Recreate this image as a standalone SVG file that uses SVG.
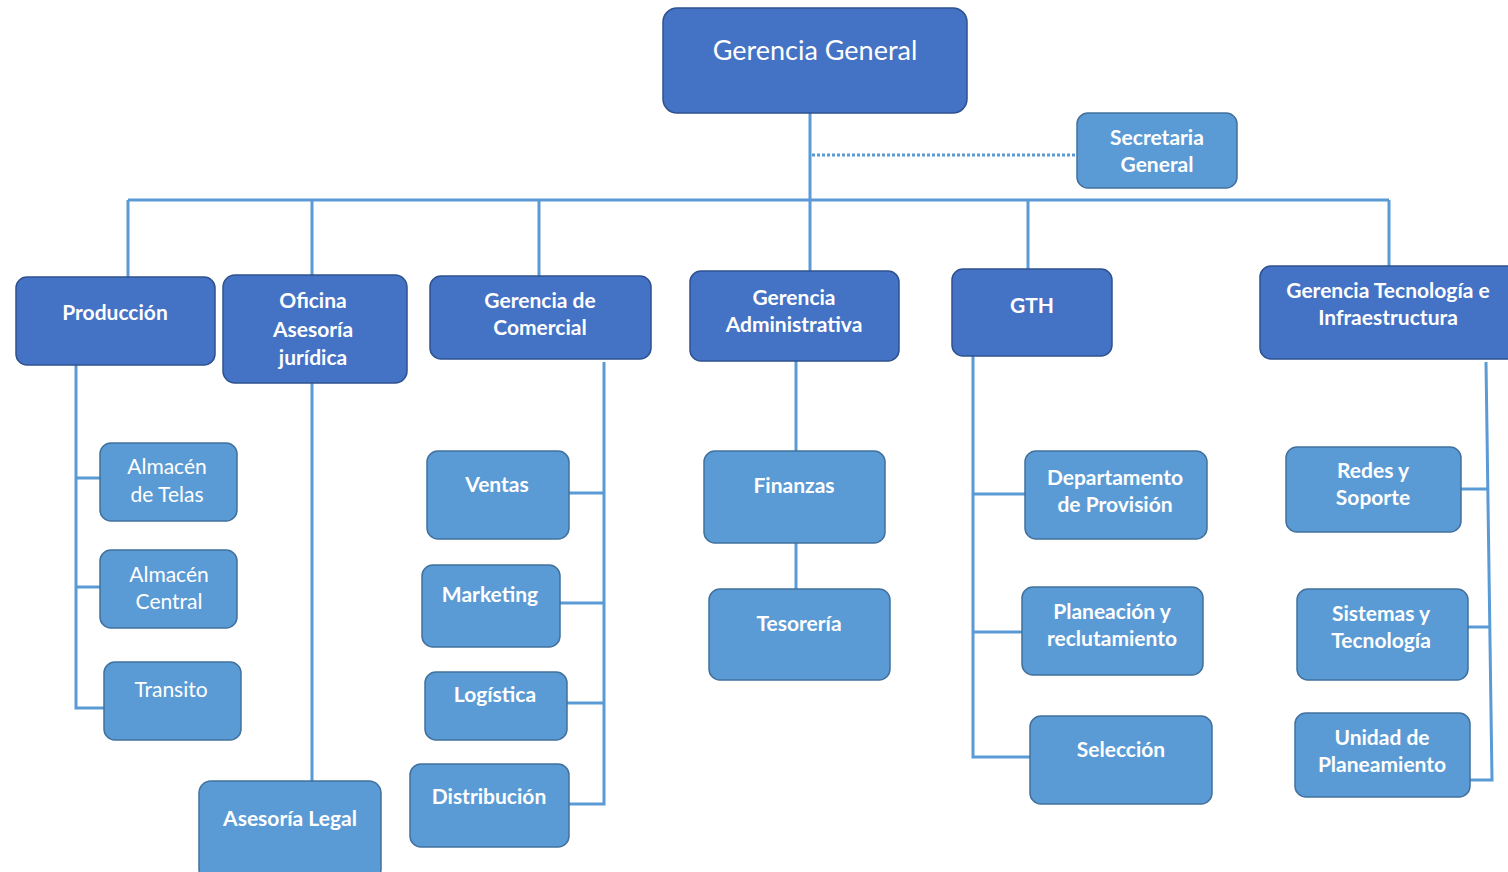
<svg xmlns="http://www.w3.org/2000/svg" width="1508" height="872" viewBox="0 0 1508 872">
<style>
.d{fill:#4472C4;stroke:#2F528F;stroke-width:1.5}
.l{fill:#5B9BD5;stroke:#41719C;stroke-width:1.5}
.t{font-family:Lato,"Open Sans",sans-serif;font-weight:bold;font-size:21px;fill:#fff;text-anchor:middle}
.n{font-weight:normal}
.c{fill:none;stroke:#5B9BD5;stroke-width:3}
</style>
<rect width="1508" height="872" fill="#fff"/>
<g id="connectors">
<path class="c" d="M810 113V200M128 200H1389M128 200V277M312 200V275M539 200V276M810 200V271M1028 200V269M1389 200V266"/>
<path d="M812 155H1077" fill="none" stroke="#5B9BD5" stroke-width="3" stroke-dasharray="3 2"/>
<path class="c" d="M76 365V708H104M76 478H100M76 587H100"/>
<path class="c" d="M312 383V781"/>
<path class="c" d="M604 362V804H569M569 493H604M560 603H604M567 703H604"/>
<path class="c" d="M796 361V451M796 543V589"/>
<path class="c" d="M973 356V757H1030M973 494H1025M973 632H1022"/>
<path class="c" d="M1486 362L1492 780H1470M1461 489H1487M1468 627H1490"/>
</g>
<g id="gerencia-general"><rect class="d" x="663" y="8" width="304" height="105" rx="14"/><text class="t n" x="815" y="60" style="font-size:27px">Gerencia General</text></g>
<g id="secretaria-general"><rect class="l" x="1077" y="113" width="160" height="75" rx="11"/><text class="t" x="1157" y="145">Secretaria</text><text class="t" x="1157" y="172">General</text></g>
<g id="produccion"><rect class="d" x="16" y="277" width="199" height="88" rx="11"/><text class="t" x="115" y="320">Producción</text></g>
<g id="oficina-asesoria"><rect class="d" x="223" y="275" width="184" height="108" rx="12"/><text class="t" x="313" y="308">Oficina</text><text class="t" x="313" y="337">Asesoría</text><text class="t" x="313" y="365">jurídica</text></g>
<g id="gerencia-comercial"><rect class="d" x="430" y="276" width="221" height="83" rx="11"/><text class="t" x="540" y="308">Gerencia de</text><text class="t" x="540" y="335">Comercial</text></g>
<g id="gerencia-administrativa"><rect class="d" x="690" y="271" width="209" height="90" rx="11"/><text class="t" x="794" y="305">Gerencia</text><text class="t" x="794" y="332">Administrativa</text></g>
<g id="gth"><rect class="d" x="952" y="269" width="160" height="87" rx="11"/><text class="t" x="1032" y="313">GTH</text></g>
<g id="gerencia-tecnologia"><rect class="d" x="1260" y="266" width="260" height="93" rx="11"/><text class="t" x="1388" y="298">Gerencia Tecnología e</text><text class="t" x="1388" y="325">Infraestructura</text></g>
<g id="almacen-telas"><rect class="l" x="100" y="443" width="137" height="78" rx="11"/><text class="t n" x="167" y="474">Almacén</text><text class="t n" x="167" y="502">de Telas</text></g>
<g id="almacen-central"><rect class="l" x="100" y="550" width="137" height="78" rx="11"/><text class="t n" x="169" y="582">Almacén</text><text class="t n" x="169" y="609">Central</text></g>
<g id="transito"><rect class="l" x="104" y="662" width="137" height="78" rx="11"/><text class="t n" x="171" y="697">Transito</text></g>
<g id="asesoria-legal"><rect class="l" x="199" y="781" width="182" height="100" rx="12"/><text class="t" x="290" y="826">Asesoría Legal</text></g>
<g id="ventas"><rect class="l" x="427" y="451" width="142" height="88" rx="11"/><text class="t" x="497" y="492">Ventas</text></g>
<g id="marketing"><rect class="l" x="422" y="565" width="138" height="82" rx="11"/><text class="t" x="490" y="602">Marketing</text></g>
<g id="logistica"><rect class="l" x="425" y="672" width="142" height="68" rx="11"/><text class="t" x="495" y="702">Logística</text></g>
<g id="distribucion"><rect class="l" x="410" y="764" width="159" height="83" rx="11"/><text class="t" x="489" y="804">Distribución</text></g>
<g id="finanzas"><rect class="l" x="704" y="451" width="181" height="92" rx="11"/><text class="t" x="794" y="493">Finanzas</text></g>
<g id="tesoreria"><rect class="l" x="709" y="589" width="181" height="91" rx="11"/><text class="t" x="799" y="631">Tesorería</text></g>
<g id="departamento-provision"><rect class="l" x="1025" y="451" width="182" height="88" rx="11"/><text class="t" x="1115" y="485">Departamento</text><text class="t" x="1115" y="512">de Provisión</text></g>
<g id="planeacion-reclutamiento"><rect class="l" x="1022" y="587" width="181" height="88" rx="11"/><text class="t" x="1112" y="619">Planeación y</text><text class="t" x="1112" y="646">reclutamiento</text></g>
<g id="seleccion"><rect class="l" x="1030" y="716" width="182" height="88" rx="11"/><text class="t" x="1121" y="757">Selección</text></g>
<g id="redes-soporte"><rect class="l" x="1286" y="447" width="175" height="85" rx="11"/><text class="t" x="1373" y="478">Redes y</text><text class="t" x="1373" y="505">Soporte</text></g>
<g id="sistemas-tecnologia"><rect class="l" x="1297" y="589" width="171" height="91" rx="11"/><text class="t" x="1381" y="621">Sistemas y</text><text class="t" x="1381" y="648">Tecnología</text></g>
<g id="unidad-planeamiento"><rect class="l" x="1295" y="713" width="175" height="84" rx="11"/><text class="t" x="1382" y="745">Unidad de</text><text class="t" x="1382" y="772">Planeamiento</text></g>
</svg>
